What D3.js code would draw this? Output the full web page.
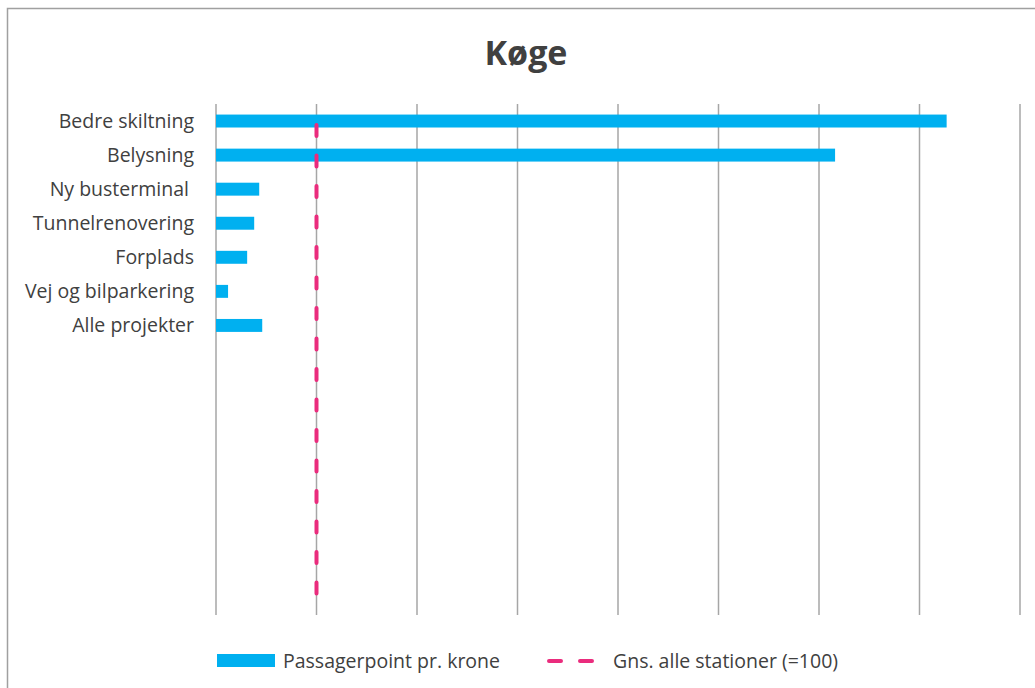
<!DOCTYPE html>
<html>
<head>
<meta charset="utf-8">
<script src="https://cdn.jsdelivr.net/npm/d3@7"></script>
<style>
  body { margin: 0; background: #fff; }
  text { font-family: "Open Sans", Lato, sans-serif; fill: #404040; }
</style>
</head>
<body>
<svg id="chart" width="1035" height="688"></svg>
<script>
const title = "Køge";
const categories = ["Bedre skiltning", "Belysning", "Ny busterminal ", "Tunnelrenovering", "Forplads", "Vej og bilparkering", "Alle projekter"];
const values = [727, 616, 43, 38, 31, 12, 46];
const slotCount = 15; // category axis has empty slots below the projects
const average = 100;
const xTicks = [0, 100, 200, 300, 400, 500, 600, 700, 800];
const legendLabels = ["Passagerpoint pr. krone", "Gns. alle stationer (=100)"];

const svg = d3.select("#chart");
const barColor = "#00b0f0";
const avgColor = "#ea2c7d";
const gridColor = "#a6a6a6";

// chart frame (left and top edges visible)
svg.append("rect")
  .attr("x", 7.5).attr("y", 8.5)
  .attr("width", 1100).attr("height", 800)
  .attr("fill", "none")
  .attr("stroke", "#a0a0a0")
  .attr("stroke-width", 1.5);

const x = d3.scaleLinear().domain([0, 800]).range([216, 1020]);
const slots = d3.range(slotCount);
const y = d3.scaleBand().domain(slots).range([104, 615]);
const barH = y.bandwidth() * 0.38;

svg.append("text")
  .attr("x", 526).attr("y", 65)
  .attr("text-anchor", "middle")
  .attr("font-family", "Lato, sans-serif")
  .attr("font-size", "34px")
  .attr("font-weight", "bold")
  .text(title);

// vertical gridlines
svg.append("g").selectAll("line")
  .data(xTicks)
  .enter().append("line")
  .attr("x1", d => x(d)).attr("x2", d => x(d))
  .attr("y1", y.range()[0]).attr("y2", y.range()[1])
  .attr("stroke", gridColor)
  .attr("stroke-width", 1.5);

// category labels
svg.append("g").selectAll("text")
  .data(categories)
  .enter().append("text")
  .attr("x", 194)
  .attr("y", (d, i) => y(i) + y.bandwidth() / 2)
  .attr("dy", "0.35em")
  .attr("text-anchor", "end")
  .attr("font-size", "19.5px")
  .style("white-space", "pre")
  .text(d => d);

svg.append("g").selectAll("rect")
  .data(values)
  .enter().append("rect")
  .attr("x", x(0))
  .attr("y", (d, i) => y(i) + y.bandwidth() / 2 - barH / 2)
  .attr("width", d => x(d) - x(0))
  .attr("height", barH)
  .attr("fill", barColor);

// average line
svg.append("line")
  .attr("x1", x(average)).attr("x2", x(average))
  .attr("y1", y(0) + y.bandwidth() * 0.62)
  .attr("y2", y.range()[1] - 14)
  .attr("stroke", avgColor)
  .attr("stroke-width", 4)
  .attr("stroke-linecap", "round")
  .attr("stroke-dasharray", "11 19.5");

// legend
const legend = svg.append("g");
legend.append("rect")
  .attr("x", 217).attr("y", 654)
  .attr("width", 58).attr("height", 13)
  .attr("fill", barColor);
legend.append("text")
  .attr("x", 283).attr("y", 661)
  .attr("dy", "0.35em")
  .attr("font-size", "19.5px")
  .text(legendLabels[0]);
legend.append("line")
  .attr("x1", 549).attr("x2", 592)
  .attr("y1", 661).attr("y2", 661)
  .attr("stroke", avgColor)
  .attr("stroke-width", 4)
  .attr("stroke-linecap", "round")
  .attr("stroke-dasharray", "12 19");
legend.append("text")
  .attr("x", 613).attr("y", 661)
  .attr("dy", "0.35em")
  .attr("font-size", "19.5px")
  .text(legendLabels[1]);
</script>
</body>
</html>
